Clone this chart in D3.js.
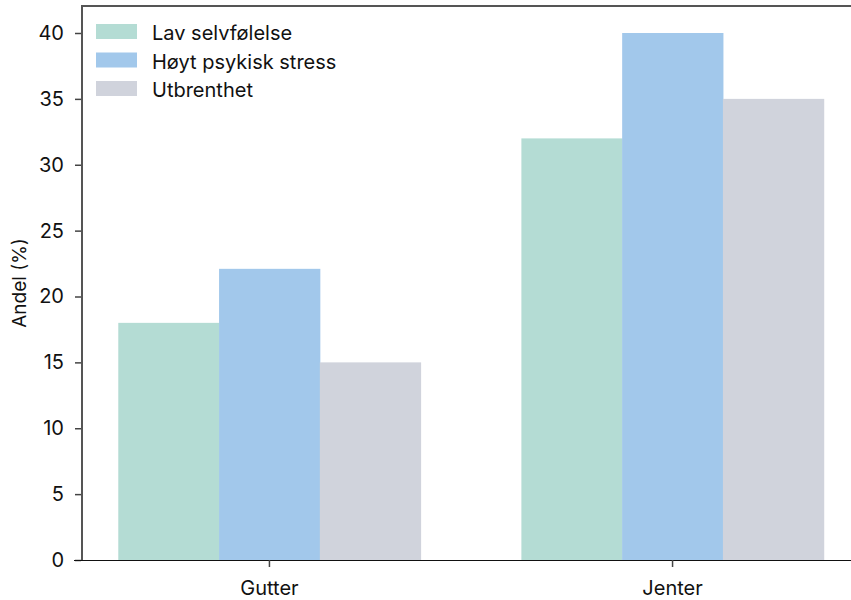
<!DOCTYPE html>
<html>
<head>
<meta charset="utf-8">
<script src="https://cdn.jsdelivr.net/npm/d3@7"></script>
<style>
  html, body { margin: 0; padding: 0; background: #fff; }
  svg { display: block; font-family: Inter, "Noto Sans", sans-serif; }
</style>
</head>
<body>
<svg id="chart" width="851" height="600"></svg>
<script>
// Andel elever per kjønn
const categories = ["Gutter", "Jenter"];
const seriesNames = ["Lav selvfølelse", "Høyt psykisk stress", "Utbrenthet"];
const lavSelvfolelse = [18, 32];
const hoytStress = [22.1, 40];
const utbrenthet = [15, 35];
const yTicks = [0, 5, 10, 15, 20, 25, 30, 35, 40];
const colors = ["#b4dcd4", "#a2c8eb", "#d0d3dc"];

const seriesValues = [lavSelvfolelse, hoytStress, utbrenthet];
const rows = categories.map((c, i) => ({
  category: c,
  values: seriesNames.map((s, j) => ({ series: s, value: seriesValues[j][i] }))
}));

const svg = d3.select("#chart");
const margin = { left: 82, top: 6, bottom: 560, right: 860 };
const fontSize = "20px";

const x = d3.scaleBand()
  .domain(categories)
  .range([margin.left, margin.right])
  .paddingInner(0.25)
  .paddingOuter(0.09);

const xs = d3.scaleBand()
  .domain(seriesNames)
  .range([0, x.bandwidth()]);

const y = d3.scaleLinear()
  .domain([0, 40])
  .range([margin.bottom, 33]);

const color = d3.scaleOrdinal().domain(seriesNames).range(colors);

// bars
svg.append("g")
  .selectAll("g")
  .data(rows)
  .join("g")
  .attr("transform", d => `translate(${x(d.category)},0)`)
  .selectAll("rect")
  .data(d => d.values)
  .join("rect")
  .attr("x", d => xs(d.series))
  .attr("width", xs.bandwidth() + 0.5)
  .attr("y", d => y(d.value))
  .attr("height", d => y(0) - y(d.value))
  .attr("fill", d => color(d.series));

// frame: left and top spines
svg.append("line")
  .attr("x1", margin.left).attr("x2", margin.left)
  .attr("y1", margin.top).attr("y2", margin.bottom)
  .attr("stroke", "#555").attr("stroke-width", 2);
svg.append("line")
  .attr("x1", margin.left - 1).attr("x2", margin.right)
  .attr("y1", margin.top).attr("y2", margin.top)
  .attr("stroke", "#555").attr("stroke-width", 2);

// y axis
const yAxis = svg.append("g")
  .attr("transform", `translate(${margin.left - 1},0)`)
  .call(d3.axisLeft(y).tickValues(yTicks).tickSize(6).tickPadding(11).tickFormat(d3.format("d")));
yAxis.select(".domain").remove();
yAxis.selectAll(".tick line").attr("stroke", "#444").attr("stroke-width", 1.5);
yAxis.selectAll(".tick text")
  .attr("fill", "#111").style("font-size", fontSize).style("font-family", "Inter, sans-serif");

// x axis
const xAxis = svg.append("g")
  .attr("transform", `translate(0,${margin.bottom})`)
  .call(d3.axisBottom(x).tickSize(7).tickPadding(14));
xAxis.select(".domain")
  .attr("d", `M${margin.left - 8},0.5H${margin.right}`)
  .attr("stroke", "#111").attr("stroke-width", 1.2);
xAxis.selectAll(".tick line").attr("stroke", "#444").attr("stroke-width", 1.5);
xAxis.selectAll(".tick text")
  .attr("fill", "#111").style("font-size", fontSize).style("font-family", "Inter, sans-serif");

// y axis title
svg.append("text")
  .attr("transform", `translate(26,${(margin.top + margin.bottom) / 2}) rotate(-90)`)
  .attr("text-anchor", "middle")
  .attr("fill", "#111")
  .style("font-size", "19px")
  .text("Andel (%)");

// legend
const legend = svg.append("g").attr("transform", "translate(96,24)");
const item = legend.selectAll("g")
  .data(seriesNames)
  .join("g")
  .attr("transform", (d, i) => `translate(0,${i * 28.5})`);
item.append("rect")
  .attr("width", 41).attr("height", 15)
  .attr("fill", d => color(d));
item.append("text")
  .attr("x", 56).attr("y", 16)
  .attr("fill", "#111")
  .style("font-size", fontSize)
  .text(d => d);
</script>
</body>
</html>
